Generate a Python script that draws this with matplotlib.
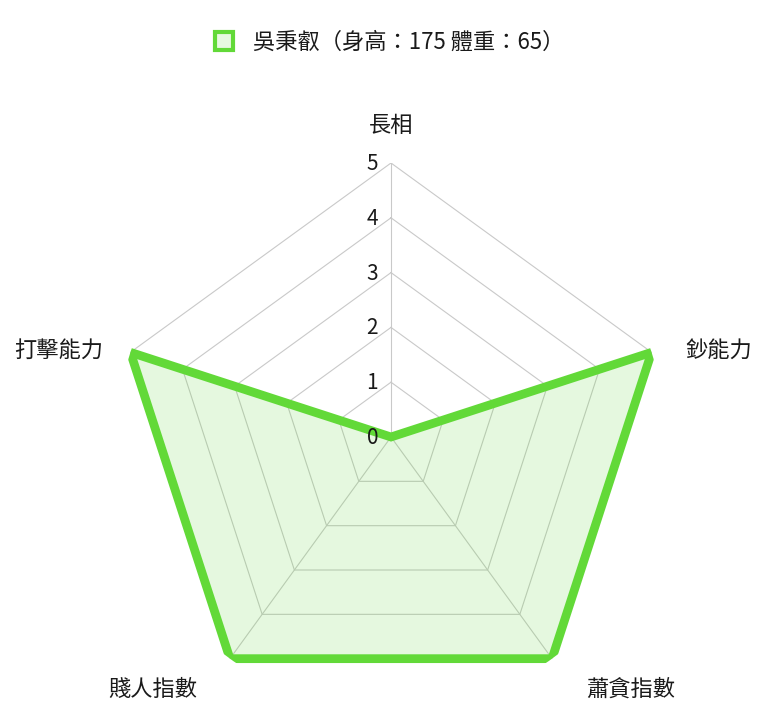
import matplotlib
matplotlib.use("Agg")
import matplotlib.pyplot as plt
from matplotlib.lines import Line2D
import numpy as np

plt.rcParams['font.family'] = ['Noto Sans CJK TC', 'DejaVu Sans']

# data
categories = ['長相', '鈔能力', '蕭貪指數', '賤人指數', '打擊能力']
values = [0, 5, 5, 5, 5]
levels = [0, 1, 2, 3, 4, 5]
series_name = '吳秉叡（身高：175 體重：65）'

line_color = '#62d938'
fill_color = (98/255, 217/255, 56/255, 0.16)
grid_color = '#c9c9c9'

n = len(categories)
theta = np.arange(n) * 2 * np.pi / n

fig = plt.figure(figsize=(7.69, 7.24), dpi=100)
ax = fig.add_axes([117/769, 13/724, 548/769, 548/724], projection='polar')
ax.set_theta_offset(np.pi / 2)
ax.set_theta_direction(-1)
ax.set_ylim(0, 5)
ax.grid(False)
ax.spines['polar'].set_visible(False)
ax.set_xticks([])
ax.set_yticks([])

# pentagon grid
th_closed = np.append(theta, theta[0])
for lv in levels[1:]:
    ax.plot(th_closed, [lv] * (n + 1), color=grid_color, lw=0.8, zorder=1)
for t in theta:
    ax.plot([t, t], [0, levels[-1]], color=grid_color, lw=0.8, zorder=1)

# data polygon
ax.fill(theta, values, facecolor=fill_color, edgecolor=line_color, lw=6.3,
        joinstyle='miter', zorder=3)

# tick numbers
for lv in levels:
    ax.annotate(str(lv), xy=(0, lv), xytext=(-13, -1), textcoords='offset pixels',
                ha='right', va='center', fontsize=15, color='#1a1a1a', zorder=4)

# category labels
offsets = [(0, 38), (67, 2), (79, -31), (-77, -31), (-72, 2)]
for t, lab, off in zip(theta, categories, offsets):
    ax.annotate(lab, xy=(t, 5), xytext=off, textcoords='offset pixels',
                ha='center', va='center', fontsize=16, color='#1a1a1a')

handle = Line2D([], [], marker='s', linestyle='none', markersize=13,
                markerfacecolor='#e7f9e1', markeredgecolor=line_color,
                markeredgewidth=3)
fig.legend([handle], [series_name], loc='center',
           bbox_to_anchor=(383/769, 1 - 42/724), frameon=False,
           fontsize=16, handletextpad=0.3, labelcolor='#1a1a1a')

fig.savefig('out.png', dpi=100)
